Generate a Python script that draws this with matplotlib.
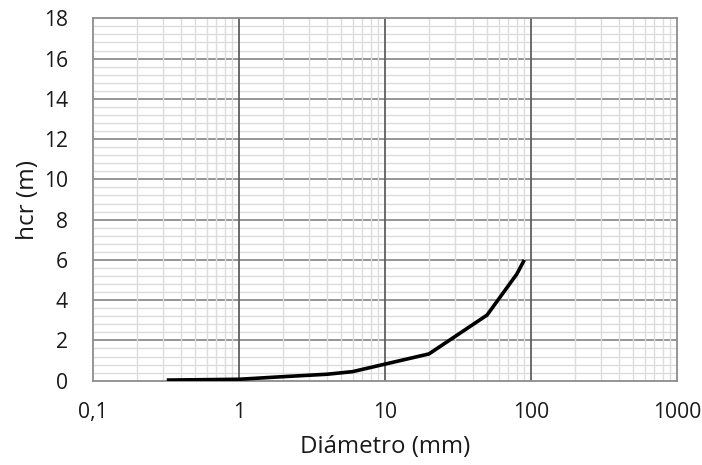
import matplotlib
matplotlib.use("Agg")
import matplotlib.pyplot as plt
import numpy as np

diametro = [0.32, 1, 2, 4, 6, 20, 50, 80, 90]
hcr = [0.03, 0.07, 0.2, 0.32, 0.45, 1.33, 3.26, 5.3, 6.0]
x_ticks = [0.1, 1, 10, 100, 1000]
x_tick_labels = ["0,1", "1", "10", "100", "1000"]
y_ticks = [0, 2, 4, 6, 8, 10, 12, 14, 16, 18]

plt.rcParams['font.family'] = ['Open Sans', 'DejaVu Sans']
plt.rcParams['font.weight'] = 'medium'
fig = plt.figure(figsize=(7.02, 4.65), dpi=100)
ax = fig.add_axes([0.1325, 0.1813, 0.8319, 0.7793])

ax.set_xscale('log')
ax.set_xlim(0.1, 1000)
ax.set_ylim(0, 18)
ax.set_xticks(x_ticks)
ax.set_xticklabels(x_tick_labels)
ax.minorticks_off()
ax.set_yticks(y_ticks)
ax.set_yticklabels([str(v) for v in y_ticks])

# gridlines, layered: horizontal minor < horizontal major < vertical minor < vertical major
y_minor = [v for v in np.arange(0, 18.01, 0.4) if abs(v / 2 - round(v / 2)) > 1e-6]
for v in y_minor:
    ax.axhline(v, color='#dcdcdc', linewidth=1.0, zorder=0.5)
for v in y_ticks[1:-1]:
    ax.axhline(v, color='#8c8c8c', linewidth=1.3, zorder=0.6)
x_minor = [m * 10.0 ** e for e in range(-1, 3) for m in range(2, 10)]
for v in x_minor:
    ax.axvline(v, color='#dcdcdc', linewidth=1.0, zorder=0.7)
for v in x_ticks[1:-1]:
    ax.axvline(v, color='#5f5f5f', linewidth=1.3, zorder=0.8)

for s in ax.spines.values():
    s.set_color('#8c8c8c')
    s.set_linewidth(1.3)

ax.tick_params(which='both', length=0, labelcolor='#1a1a1a')
ax.tick_params(axis='x', labelsize=15.2, pad=15)
ax.tick_params(axis='y', labelsize=15.2, pad=18)

ax.plot(diametro, hcr, color='black', linewidth=2.6, solid_capstyle='butt', zorder=3)

ax.set_xlabel('Diámetro (mm)', fontsize=17.3, labelpad=9, color='#1a1a1a')
ax.set_ylabel('hcr (m)', fontsize=17.5, labelpad=3, color='#1a1a1a')

fig.savefig('out.png', dpi=100)
